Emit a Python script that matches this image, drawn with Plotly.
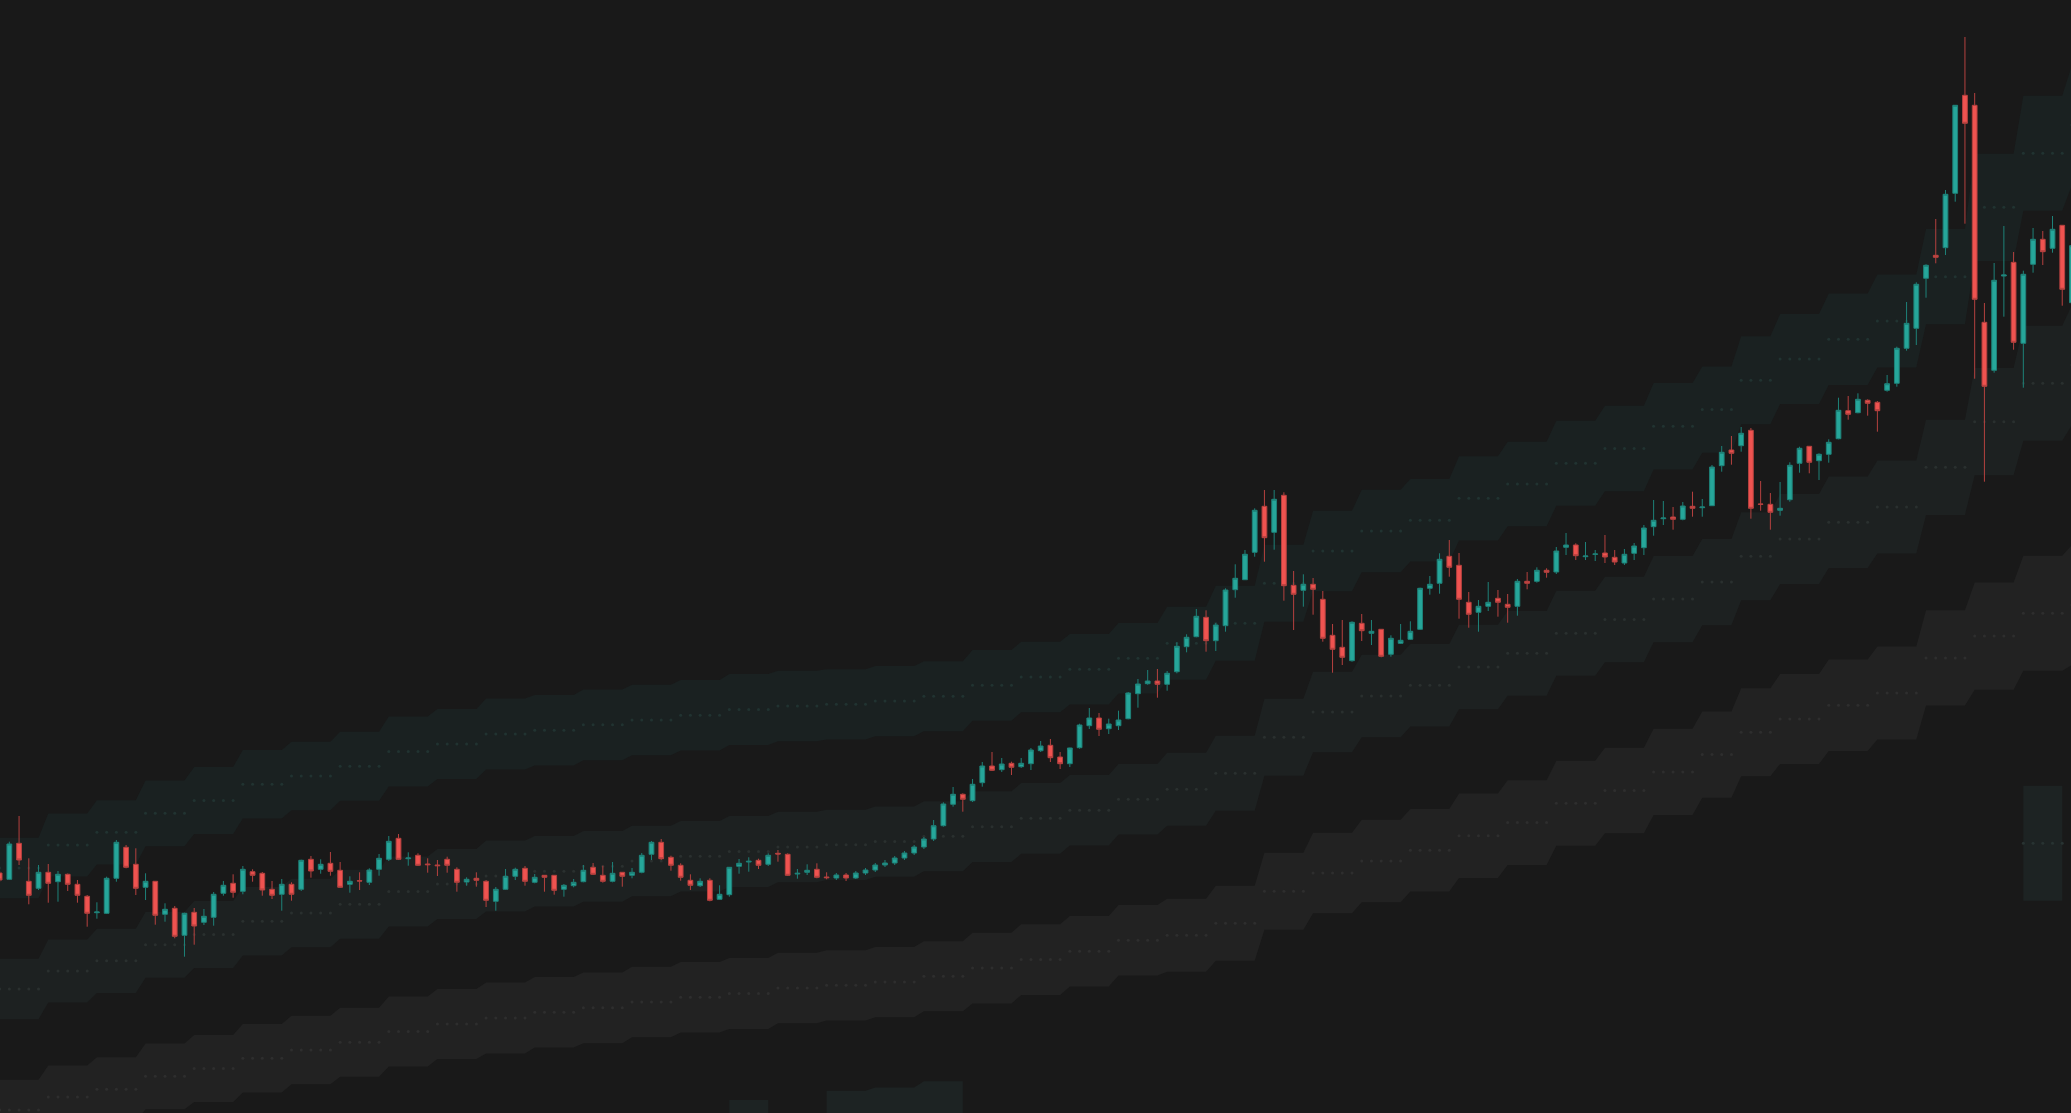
import numpy as np
import plotly.graph_objects as go

# Daily candles, index 0..213 (price units)
opens = [
    240, 233.7, 269.7, 231.7, 224.7, 240.7, 231.3, 238.7, 228.7, 216.7,
    200.3, 199.7, 234.7, 265.7, 248.7, 225.7, 231.7, 198.7, 204.7, 177.7,
    200.7, 190.7, 195.7, 219.7, 229.7, 221.7, 241.3, 239.7, 223.7, 218.7,
    228.7, 223.7, 253.7, 243.7, 249.7, 242.7, 228.7, 232.3, 230.7, 243.7,
    253.7, 274.7, 254.3, 257.7, 249, 248, 253.7, 243.7, 231, 234.7,
    231.7, 211.7, 223.7, 236.7, 244.7, 230.7, 237.7, 237.7, 223.7, 227.3,
    231.3, 245.7, 237.7, 231.7, 240.7, 237.7, 240.7, 258.7, 270.7, 255.7,
    247.7, 232.7, 227.3, 232.7, 213.7, 218.3, 246.7, 251, 252.7, 248.7,
    259.7, 258.7, 239, 240.7, 243.7, 236, 235, 238, 235, 240,
    243, 248, 250, 255, 260, 266, 274, 287.3, 308.7, 318.7,
    312.3, 330.3, 347, 343.3, 349.7, 346.3, 349.3, 362.3, 367.7, 356,
    349.3, 365.3, 387.3, 395, 384.3, 387.3, 394.3, 419.3, 429.3, 432,
    428.7, 441.3, 466.3, 476.3, 495.7, 472.3, 487.3, 523.3, 533.3, 560.7,
    606.7, 580.7, 617.7, 527.7, 522.7, 528.7, 513.7, 477.7, 465.7, 452.3,
    489.7, 479.7, 483.7, 458.7, 469.7, 473.7, 483.7, 524.7, 529.7, 556.7,
    547.7, 510.7, 500.7, 506.7, 514.7, 508.7, 506.7, 531.7, 531.7, 542.7,
    541, 565.7, 568, 556.3, 558.7, 560, 555.7, 550, 559.7, 565.3,
    586.3, 594.3, 596, 593.7, 606.7, 605.3, 607.3, 647.3, 663, 667.3,
    682.7, 609, 608.7, 602.7, 613.3, 649.7, 666.7, 652.3, 658.7, 674.3,
    702.3, 700.3, 712.7, 710.7, 722.7, 729.7, 764.7, 784.7, 834.7, 857.7,
    865.3, 919.7, 1017.7, 1007.7, 790.7, 742.7, 837, 850.7, 769.7, 848.7,
    873.7, 864.7, 887.7, 810.3,
]
highs = [
    242, 271.3, 297, 254.7, 248, 249, 242, 239.5, 233, 218,
    210.7, 236.3, 273, 268, 264.7, 239.7, 232, 209.7, 207, 200.3,
    205, 204, 221, 232, 238.7, 247, 243.7, 241, 232, 234,
    230.7, 253.3, 257, 253.7, 261, 251, 236.7, 240.7, 244.7, 259,
    277, 279, 260.7, 259.7, 254.7, 253, 256.3, 245.7, 235.7, 240.7,
    233, 226, 244, 245.3, 247, 239, 238, 238, 229, 234,
    248, 250, 247.3, 251, 241, 245, 260, 272, 274, 257.3,
    249.7, 238.7, 234.7, 234.7, 227.7, 246, 254, 255.7, 254.3, 259.7,
    263, 259.7, 244, 248.7, 249.7, 240.7, 240, 240, 242, 245,
    250, 253, 257, 262, 268, 276, 293, 310.7, 326, 319.7,
    334, 351, 361, 355, 351.3, 355, 365, 372, 374, 361,
    365.3, 389.3, 405, 400, 394.3, 402.3, 421, 434, 443, 444,
    442, 470.7, 478.7, 504, 502.7, 490, 524.7, 548.7, 563, 604.7,
    623, 623, 620.7, 542, 538.7, 535, 522, 489, 493, 491.7,
    499, 493, 484, 477.7, 489, 491.7, 525.3, 537, 559.7, 573,
    560, 521, 513, 531, 523, 519, 534, 541, 545.7, 544.7,
    566, 580, 569.7, 571, 563, 578, 563, 564, 570, 588,
    613, 612, 606, 611, 621.3, 614, 648, 667, 677, 686,
    685, 632, 620, 631, 650.7, 666.3, 667, 659.7, 673.7, 715.3,
    717, 719.7, 713.7, 712, 738, 766.3, 811, 830.7, 848.7, 894,
    923, 1008, 1076, 1020, 810, 850, 887, 861, 842.3, 885,
    882, 897, 888, 870,
]
lows = [
    231, 233, 248, 208.7, 223, 210.3, 211.3, 222, 210.3, 186.3,
    194.3, 199, 231.3, 244.7, 218, 213, 188.3, 191.3, 174.7, 156.3,
    168.3, 188, 187.3, 217.3, 215.3, 218.7, 231.3, 217.3, 214, 202.3,
    212.3, 222, 235.3, 239.3, 237.3, 225, 220.3, 223, 228, 237.3,
    252, 253, 247.3, 247, 240.3, 237, 240.3, 221.3, 227.3, 226.3,
    206, 202.3, 223, 233, 227.3, 229.7, 221.3, 218.3, 216.3, 225.7,
    230.7, 238, 230.3, 230.7, 226.3, 234.7, 239.7, 253, 253, 242.3,
    232.3, 223, 226, 211.7, 213.3, 216.3, 239.3, 241.3, 244, 247,
    251.3, 237, 234.3, 238, 234.7, 233.7, 233, 232, 234, 238,
    241, 246, 248, 253, 258, 264, 272, 286.3, 306.3, 301.3,
    311, 326.3, 342, 341, 338, 345, 343, 361, 351, 344,
    346, 364.3, 384, 377, 379, 383, 393.7, 405.3, 428.3, 415.3,
    422.3, 439.7, 460.7, 475.7, 461.3, 462, 481.3, 515.3, 533, 556.3,
    551.3, 563.3, 512.3, 483, 506.3, 498.3, 471.3, 440.3, 448, 451.3,
    472, 468, 455.7, 456.3, 469, 473, 483, 518.3, 519.3, 536.3,
    494.3, 485.3, 481.3, 502, 496.3, 490.3, 497.3, 523.7, 530.3, 535.3,
    539, 558, 553, 553, 552, 550, 548, 548, 553, 558,
    577.3, 588, 583.3, 592.7, 596.3, 596.3, 607, 641.3, 648.3, 661.3,
    594.3, 602.3, 583.3, 597.3, 611.3, 640.3, 639.7, 633, 650.3, 673.7,
    693.3, 699.7, 697.3, 681.3, 721.3, 726.3, 762.3, 768, 815.3, 849.7,
    858, 911.3, 889.3, 734.3, 631.3, 740.3, 796.3, 763.3, 725.3, 840.3,
    848, 860.3, 807.3, 805,
]
closes = [
    233, 269, 253, 217.7, 240.7, 229.7, 238.7, 228.7, 217.7, 199.7,
    201, 234.7, 270.7, 245.7, 224.7, 231.7, 197.7, 203.7, 176.7, 199.7,
    187, 196.7, 218.7, 227.7, 220.7, 243.7, 237.7, 223, 217.7, 228.7,
    218.7, 252.7, 242, 248.7, 241.7, 225.7, 231.7, 232, 243, 254.7,
    271.7, 253.7, 255, 247.7, 248.3, 247.3, 247.7, 230.7, 233.7, 232.7,
    212.7, 223.7, 236.7, 243.7, 231.7, 235.7, 235.7, 222.7, 227.7, 230.7,
    242.7, 238.7, 231.7, 239.7, 236.7, 240.7, 257.7, 270.7, 254.3, 247.7,
    235.7, 227.7, 231.7, 212.7, 218.7, 245.7, 249.7, 251.7, 247.7, 257.7,
    259, 237.7, 239.7, 242.7, 235.7, 235.3, 238, 235, 240, 243,
    248, 250, 255, 260, 266, 274, 287.3, 309, 318.7, 313.7,
    328.7, 347, 342.7, 349, 345.7, 349.7, 363, 367, 355.3, 349.3,
    365, 388, 395, 383.7, 389, 393, 420, 429, 432, 428.7,
    439.7, 466.7, 475.7, 496.7, 472.3, 488, 523, 534.7, 558.7, 602.7,
    575.3, 613.7, 527.3, 518.7, 528.7, 523.7, 474.7, 463.7, 455.7, 490.7,
    482.3, 481.7, 456.7, 474.7, 472.7, 481.7, 524.7, 528.7, 553.7, 545.7,
    513.7, 498.7, 506.7, 510.7, 510.7, 505.7, 531.7, 529.7, 542.7, 540.7,
    562, 568, 557.3, 557, 559, 556, 551, 558.7, 567, 585,
    592.7, 595, 593.7, 607, 604.7, 606, 646, 660.7, 659.7, 679.7,
    604.7, 608.7, 600.7, 604.7, 647.7, 664.7, 650.7, 658.7, 670.7, 702.7,
    698.7, 713.7, 709.7, 702.3, 729.3, 764.7, 789.7, 828.7, 847.7, 855.7,
    918.7, 1007.7, 989.7, 813.7, 726.7, 832.7, 838, 770.7, 838.7, 873.7,
    861.3, 883.7, 823.7, 867.3,
]

# Weekly band levels: first candle of each week, centre of the top band,
# distance between band centres
week_start = [
    0, 5, 10, 15, 20, 25, 30, 35, 40, 45, 50, 55, 60, 65, 70, 75, 80, 85,
    90, 95, 100, 105, 110, 115, 120, 125, 130, 135, 140, 145, 150, 155,
    160, 165, 170, 175, 179, 183, 188, 193, 198, 203, 208, 213,
]
week_mid = [
    245, 268, 280.7, 299.7, 312.5, 328.7, 337, 346.7, 361.5, 369, 379,
    382.7, 388.2, 393, 397.7, 403.6, 407, 408.7, 412, 416.7, 427.7, 436,
    443.7, 454.7, 469.7, 489.7, 529.7, 562, 582, 592.7, 614.7, 629, 649.7,
    664.6, 686.7, 703.4, 732.7, 754, 773.7, 792, 836.3, 905.7, 959.7, 988,
]
week_step = [
    121, 126, 128.5, 131.5, 134, 137, 137, 138, 140, 140, 142, 141, 141.5,
    141, 141, 142, 141, 140.5, 140.5, 140, 141.4, 141.3, 141, 141, 146,
    150, 154, 161, 165, 165, 168.7, 169.3, 170, 171, 172.8, 172.5, 176,
    180, 183, 186, 190.6, 214.4, 230, 240,
]
# the fourth band only shows in these weeks
outer_weeks = [15, 17, 18, 19, 42]

BG = "#191919"
band_fill = ["#1a2121", "#1d2121", "#222222", "#1d2323"]
band_dot = ["#213331", "#2a302f", "#2e2e2e", "#283332"]

n = len(opens)
idx = np.arange(n)
week_of = np.searchsorted(week_start, idx, side="right") - 1
mid = np.array(week_mid)[week_of]
step = np.array(week_step)[week_of]

fig = go.Figure()

for k in range(4):
    weeks = outer_weeks if k == 3 else list(range(len(week_start)))
    runs = []
    for w in weeks:
        if runs and w == runs[-1][-1] + 1:
            runs[-1].append(w)
        else:
            runs.append([w])
    xs, ys, dx, dy = [], [], [], []
    for run in runs:
        sel = idx[np.isin(week_of, run)]
        centre = mid[sel] - k * step[sel]
        upper = centre + step[sel] / 4
        lower = centre - step[sel] / 4
        xs += list(sel) + list(sel[::-1]) + [None]
        ys += list(upper) + list(lower[::-1]) + [None]
        dx += list(sel)
        dy += list(centre)
    fig.add_trace(
        go.Scatter(
            x=xs,
            y=ys,
            mode="lines",
            fill="toself",
            fillcolor=band_fill[k],
            line=dict(width=0),
            hoverinfo="skip",
        )
    )
    fig.add_trace(
        go.Scatter(
            x=dx,
            y=dy,
            mode="markers",
            marker=dict(size=3, color=band_dot[k]),
            hoverinfo="skip",
        )
    )

# candles sit on an overlaid subplot so they draw above the band fills
fig.add_trace(
    go.Candlestick(
        x=idx,
        open=opens,
        high=highs,
        low=lows,
        close=closes,
        increasing=dict(line=dict(color="#1e8279", width=1), fillcolor="#26a69a"),
        decreasing=dict(line=dict(color="#b5413f", width=1), fillcolor="#ef5350"),
        whiskerwidth=0,
        xaxis="x2",
        yaxis="y2",
    )
)

x_range = [0.04, 212.9]
y_range = [0, 1113]
fig.update_layout(
    width=2071,
    height=1113,
    margin=dict(l=0, r=0, t=0, b=0),
    paper_bgcolor=BG,
    plot_bgcolor=BG,
    showlegend=False,
    xaxis=dict(visible=False, range=x_range, rangeslider=dict(visible=False)),
    yaxis=dict(visible=False, range=y_range),
    xaxis2=dict(visible=False, range=x_range, overlaying="x", rangeslider=dict(visible=False)),
    yaxis2=dict(visible=False, range=y_range, overlaying="y"),
)

fig.write_html(
    "out.html",
    config={"displayModeBar": False},
    post_script="document.body.style.margin='0';document.body.style.background='#191919';",
)
